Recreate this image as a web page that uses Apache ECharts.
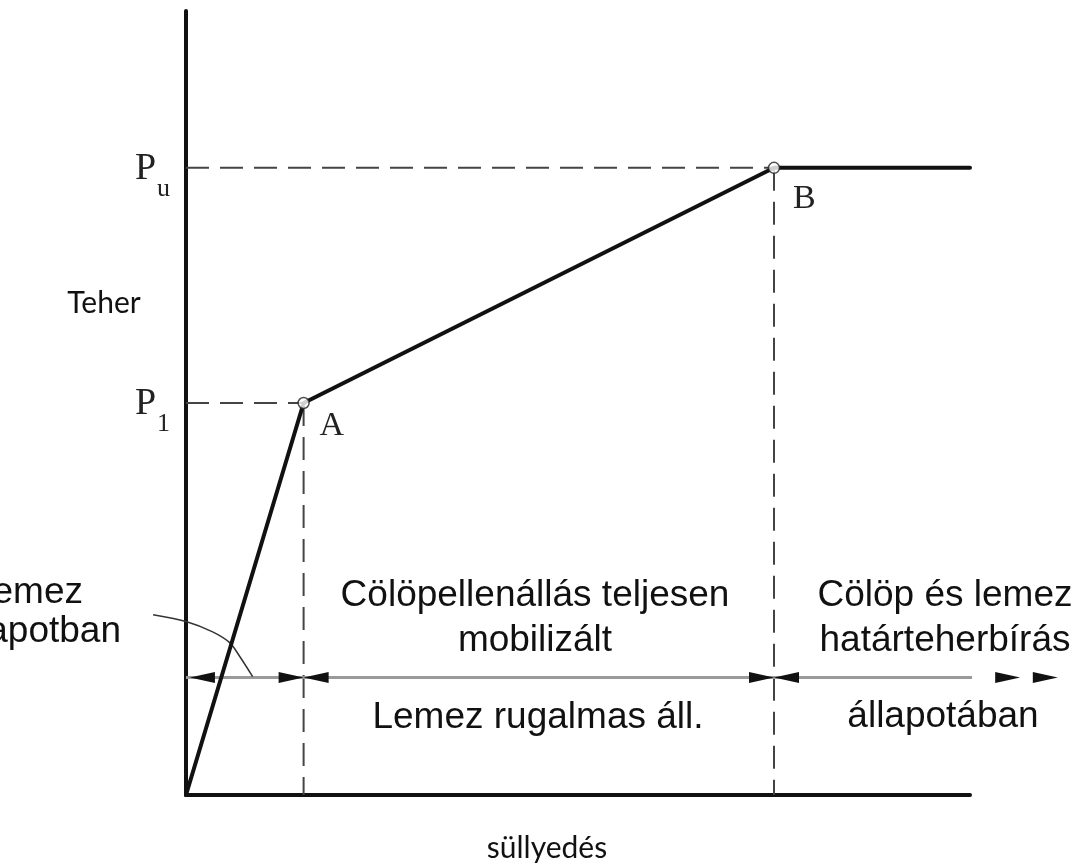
<!DOCTYPE html>
<html>
<head>
<meta charset="utf-8">
<script src="https://cdn.jsdelivr.net/npm/echarts@6/dist/echarts.min.js"></script>
<style>
  html, body { margin: 0; padding: 0; background: #fff; }
  #main { width: 1079px; height: 865px; }
</style>
</head>
<body>
<div id="main"></div>
<script>
// load-settlement curve (schematic units)
const curveX = [0, 15, 75, 100];
const curveY = [0, 50, 80, 80];
// characteristic points A and B
const pointNames = ['A', 'B'];
const pointX = [15, 75];
const pointY = [50, 80];
const pointLoadLabels = ['1', 'u']; // P1, Pu
// zone arrow line
const zoneY = 15;
const zoneEnd = 111.5;
const arrowTipX = [0.5, 15, 15, 75, 75, 106.4, 111.2];
const arrowDir = [-1, 1, -1, 1, -1, 1, 1];
// leader line to the cut-off label on the left
const leaderX = [-4.2, 0.1, 3.4, 5.6, 6.9, 8.5];
const leaderY = [23.0, 22.1, 20.8, 19.4, 17.6, 15.1];

const chart = echarts.init(document.getElementById('main'));

const dashStyle = { color: '#444', width: 2, type: [23, 11] };

let dashSeries = [];
pointX.forEach(function (x, i) {
  dashSeries.push({
    type: 'line', data: [[0, pointY[i]], [x, pointY[i]]],
    symbol: 'none', lineStyle: dashStyle, z: 1, silent: true
  });
  dashSeries.push({
    type: 'line', data: [[x, pointY[i]], [x, 0]],
    symbol: 'none', lineStyle: dashStyle, z: 1, silent: true
  });
});

const option = {
  animation: false,
  backgroundColor: '#fff',
  grid: { left: 186, top: 11, width: 784, height: 784 },
  xAxis: {
    type: 'value', min: 0, max: 100,
    axisLine: { show: true, onZero: false, lineStyle: { color: '#111', width: 4 } },
    axisTick: { show: false }, axisLabel: { show: false }, splitLine: { show: false }
  },
  yAxis: {
    type: 'value', min: 0, max: 100,
    axisLine: { show: true, onZero: false, lineStyle: { color: '#111', width: 4 } },
    axisTick: { show: false }, axisLabel: { show: false }, splitLine: { show: false }
  },
  series: dashSeries.concat([
    {
      // zone line
      type: 'line', data: [[0, zoneY], [zoneEnd, zoneY]], clip: false,
      symbol: 'none', lineStyle: { color: '#9a9a9a', width: 3 }, z: 1
    },
    {
      type: 'custom', clip: false, z: 3,
      data: arrowTipX.map(function (x, i) { return [x, zoneY, arrowDir[i]]; }),
      renderItem: function (params, api) {
        const tip = api.coord([api.value(0), api.value(1)]);
        const d = api.value(2);
        const L = 25, h = 5.5;
        return {
          type: 'polygon',
          shape: { points: [tip, [tip[0] - d * L, tip[1] - h], [tip[0] - d * L, tip[1] + h]] },
          style: { fill: '#111' }
        };
      }
    },
    {
      // leader curve
      type: 'custom', clip: false, z: 2,
      data: [[leaderX[0], leaderY[0]]],
      renderItem: function (params, api) {
        const pts = leaderX.map(function (x, i) { return api.coord([x, leaderY[i]]); });
        return {
          type: 'polyline',
          shape: { points: pts, smooth: 0.3 },
          style: { stroke: '#333', lineWidth: 1.5, fill: null }
        };
      }
    },
    {
      type: 'line', data: curveX.map(function (x, i) { return [x, curveY[i]]; }),
      symbol: 'none', lineStyle: { color: '#111', width: 4, cap: 'round' }, z: 4
    },
    {
      type: 'scatter', data: pointX.map(function (x, i) { return [x, pointY[i]]; }),
      symbol: 'circle', symbolSize: 11,
      itemStyle: { color: '#fff', borderColor: '#222', borderWidth: 1.5 }, z: 5
    }
  ])
};
chart.setOption(option);

// annotations placed through the chart's own coordinates
const serif = '"Liberation Serif", "DejaVu Serif", serif';
const sans = '"Liberation Sans", Arial, sans-serif';
const titleFont = '30px Lato, sans-serif';
let g = [];
pointX.forEach(function (x, i) {
  const p = chart.convertToPixel({ gridIndex: 0 }, [x, pointY[i]]);
  const axisPt = chart.convertToPixel({ gridIndex: 0 }, [0, pointY[i]]);
  g.push({ type: 'text', x: p[0] + 16 + i * 3, y: p[1] + 23 + i * 8,
    style: { text: pointNames[i], font: '34px ' + serif, fill: '#222', verticalAlign: 'middle' } });
  g.push({ type: 'text', x: axisPt[0] - 51, y: axisPt[1] + 1,
    style: { text: 'P', font: '38px ' + serif, fill: '#222', verticalAlign: 'middle' } });
  g.push({ type: 'text', x: axisPt[0] - 29, y: axisPt[1] + 21,
    style: { text: pointLoadLabels[i], font: '26px ' + serif, fill: '#222', verticalAlign: 'middle' } });
});

function label(text, x, y, align) {
  return { type: 'text', x: x, y: y,
    style: { text: text, font: '37px ' + sans, fill: '#111', align: align || 'center',
      verticalAlign: 'middle', lineHeight: 45 } };
}
g.push(label('Cölöpellenállás teljesen\nmobilizált', 535, 618));
g.push(label('Lemez rugalmas áll.', 538, 718));
g.push(label('Cölöp és lemez\nhatárteherbírás', 945, 618));
g.push(label('állapotában', 943, 717));
g.push(label('Lemez', 83, 593, 'right'));
g.push(label('állapotban', 121, 632, 'right'));
g.push({ type: 'text', x: 104, y: 303,
  style: { text: 'Teher', font: titleFont, fill: '#111', align: 'center', verticalAlign: 'middle' } });
g.push({ type: 'text', x: 547, y: 848,
  style: { text: 'süllyedés', font: titleFont, fill: '#111', align: 'center', verticalAlign: 'middle' } });

chart.setOption({ graphic: g });
</script>
</body>
</html>
